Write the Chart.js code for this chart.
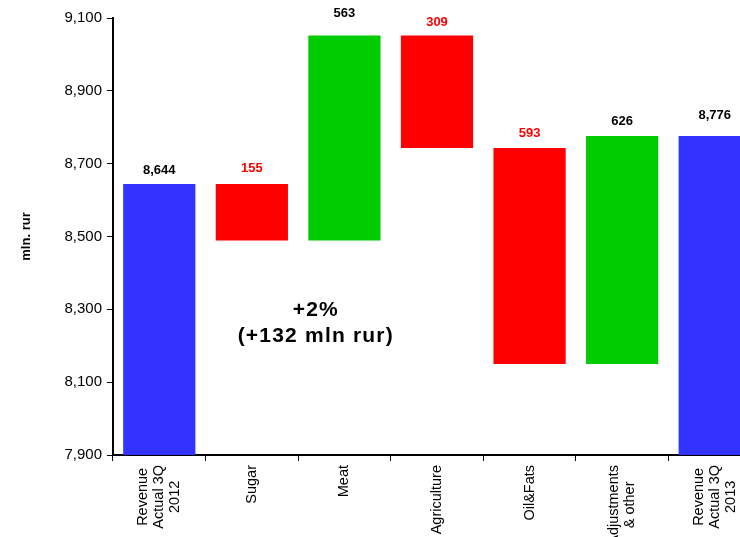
<!DOCTYPE html>
<html>
<head>
<meta charset="utf-8">
<script src="https://cdn.jsdelivr.net/npm/chart.js@4/dist/chart.umd.min.js"></script>
<style>
  html, body { margin: 0; padding: 0; background: #ffffff; overflow: hidden; }
  #frame { width: 740px; height: 537px; overflow: hidden; position: relative; }
  canvas { display: block; }
</style>
</head>
<body>
<div id="frame"><canvas id="bridge" width="762" height="537"></canvas></div>
<script>
// Revenue bridge, 3Q 2012 -> 3Q 2013 (mln. rur)
const categories = [
  ['Revenue', 'Actual 3Q', '2012'],
  'Sugar',
  'Meat',
  'Agriculture',
  'Oil&Fats',
  ['Adjustments', '& other'],
  ['Revenue', 'Actual 3Q', '2013']
];
const startTotal = 8644;
const changes = [-155, 563, -309, -593, 626];
const endTotal = 8776;
const yTicks = [7900, 8100, 8300, 8500, 8700, 8900, 9100];

const BLUE = '#3333ff';
const GREEN = '#00cc00';
const RED = '#ff0000';
const FONT = "'Liberation Sans', Arial, Helvetica, sans-serif";

// Build floating segments: totals rest on the axis floor, changes float on the running sum
const floor = yTicks[0];
const segments = [[floor, startTotal]];
const colors = [BLUE];
const labels = [startTotal.toLocaleString('en-US')];
const labelColors = ['#000000'];
let running = startTotal;
changes.forEach(d => {
  const next = running + d;
  segments.push([running, next]);
  colors.push(d < 0 ? RED : GREEN);
  labels.push(Math.abs(d).toLocaleString('en-US'));
  labelColors.push(d < 0 ? RED : '#000000');
  running = next;
});
segments.push([floor, endTotal]);
colors.push(BLUE);
labels.push(endTotal.toLocaleString('en-US'));
labelColors.push('#000000');

// Distance (px) between each bar top and the centre of its value label
const labelLift = [14, 16, 22, 13, 15, 15, 21];

const diff = endTotal - startTotal;
const pct = Math.round(diff / startTotal * 100);
const sign = v => (v >= 0 ? '+' : '');

// Value labels above the bars plus the overall-change note
const valueLabels = {
  id: 'valueLabels',
  afterDatasetsDraw(chart) {
    const { ctx } = chart;
    const meta = chart.getDatasetMeta(0);
    const y = chart.scales.y;
    ctx.save();
    ctx.font = 'bold 13px ' + FONT;
    ctx.textAlign = 'center';
    ctx.textBaseline = 'middle';
    meta.data.forEach((bar, i) => {
      const top = y.getPixelForValue(Math.max(segments[i][0], segments[i][1]));
      ctx.fillStyle = labelColors[i];
      ctx.fillText(labels[i], bar.x, top - labelLift[i]);
    });

    const xs = chart.scales.x;
    const cx = xs.getPixelForValue(1.68) + 1;
    const cy = y.getPixelForValue(8300);
    ctx.fillStyle = '#000000';
    ctx.font = 'bold 21px ' + FONT;
    ctx.letterSpacing = '1.2px';
    ctx.fillText(sign(pct) + pct + '%', cx, cy + 1);
    ctx.fillText('(' + sign(diff) + diff + ' mln rur)', cx, cy + 27);
    ctx.restore();
  }
};

// Category names: rotated, lines centred on each other, block centred on the category
const categoryLabels = {
  id: 'categoryLabels',
  afterDraw(chart) {
    const xs = chart.scales.x;
    const { ctx } = chart;
    ctx.save();
    ctx.font = '14.5px ' + FONT;
    ctx.fillStyle = '#000000';
    ctx.textAlign = 'center';
    ctx.textBaseline = 'middle';
    const top = xs.top + 10;
    const lineStep = 16;
    categories.forEach((cat, i) => {
      const lines = Array.isArray(cat) ? cat : [cat];
      const cx = xs.getPixelForValue(i);
      const maxW = Math.max(...lines.map(l => ctx.measureText(l).width));
      lines.forEach((line, j) => {
        const lx = cx + (j - (lines.length - 1) / 2) * lineStep;
        ctx.save();
        ctx.translate(lx, top + maxW / 2);
        ctx.rotate(-Math.PI / 2);
        ctx.fillText(line, 0, 0);
        ctx.restore();
      });
    });
    ctx.restore();
  }
};

new Chart(document.getElementById('bridge'), {
  type: 'bar',
  data: {
    labels: categories,
    datasets: [{
      data: segments,
      backgroundColor: colors,
      borderWidth: 0,
      barPercentage: 0.78,
      categoryPercentage: 1.0
    }]
  },
  options: {
    responsive: false,
    animation: false,
    events: [],
    layout: { padding: { top: 18, right: 1, left: 0, bottom: 0 } },
    plugins: {
      legend: { display: false },
      tooltip: { enabled: false }
    },
    scales: {
      x: {
        type: 'category',
        offset: true,
        border: { display: true, color: '#000000', width: 2 },
        grid: {
          offset: true,
          drawOnChartArea: false,
          drawTicks: true,
          tickLength: 6,
          color: '#000000',
          lineWidth: 1
        },
        ticks: { display: false, autoSkip: false },
        afterFit(scale) { scale.height = 82; }
      },
      y: {
        type: 'linear',
        min: yTicks[0],
        max: yTicks[yTicks.length - 1],
        border: { display: true, color: '#000000', width: 2 },
        grid: {
          drawOnChartArea: false,
          drawTicks: true,
          tickLength: 6,
          color: '#000000',
          lineWidth: 1
        },
        afterBuildTicks(scale) {
          scale.ticks = yTicks.map(v => ({ value: v }));
        },
        ticks: {
          padding: 5,
          color: '#000000',
          font: { family: FONT, size: 15 },
          callback: v => Number(v).toLocaleString('en-US')
        },
        title: {
          display: true,
          text: 'mln. rur',
          color: '#000000',
          font: { family: FONT, size: 13, weight: 'bold' },
          padding: { top: 19, bottom: 0 }
        },
        afterFit(scale) { scale.width = 113; }
      }
    }
  },
  plugins: [valueLabels, categoryLabels]
});
</script>
</body>
</html>
